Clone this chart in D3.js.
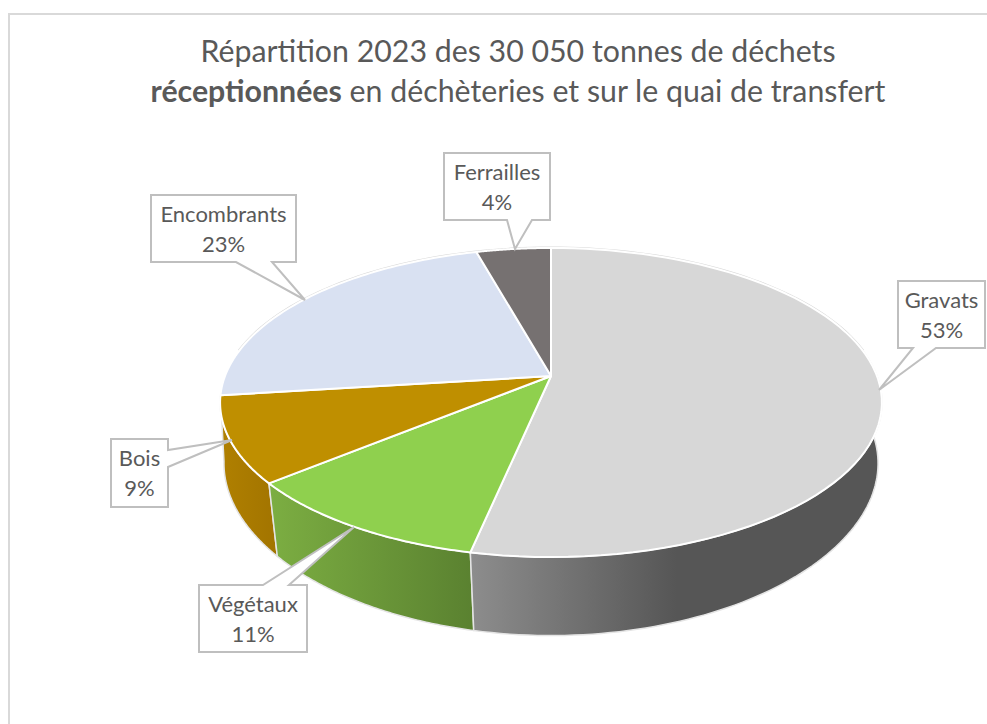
<!DOCTYPE html>
<html lang="fr">
<head>
<meta charset="utf-8">
<script src="https://cdn.jsdelivr.net/npm/d3@7/dist/d3.min.js"></script>
<style>
html,body{margin:0;padding:0;background:#fff;}
svg{display:block;}
text{font-family:Lato,"Open Sans",sans-serif;fill:#595959;}
</style>
</head>
<body>
<svg id="chart" width="987" height="724"></svg>
<script>
// --- data ---
const categories = ["Gravats", "Végétaux", "Bois", "Encombrants", "Ferrailles"];
const shares = [53.3, 10.7, 9, 22.7, 4.3];
const labels = ["53%", "11%", "9%", "23%", "4%"];
const topColors = ["#d7d7d7", "#8fd04e", "#bf8f00", "#d9e1f2", "#767171"];
const sideStops = [
  [[0, "#8d8d8d"], [0.5, "#565656"], [1, "#565656"]],
  [[0, "#7cae42"], [1, "#5a8130"]],
  [[0, "#b08000"], [1, "#a27400"]],
  null,
  null
];
const titleLines = [
  [{t: "Répartition 2023 des 30 050 tonnes de déchets", b: false}],
  [{t: "réceptionnées", b: true}, {t: " en déchèteries et sur le quai de transfert", b: false}]
];

// --- layout of the callouts: box [left, top, right, bottom], tail base and tip ---
const callouts = [
  {box: [898, 281, 985, 348], base: [[913, 348], [936, 348]], tip: [879, 390]},
  {box: [199, 585, 307, 652], base: [[263, 585], [289, 585]], tip: [354, 527]},
  {box: [111, 439, 168, 507], base: [[168, 450], [168, 467]], tip: [232, 440]},
  {box: [151, 195, 296, 262], base: [[236, 262], [272, 262]], tip: [305, 300]},
  {box: [444, 153, 550, 220], base: [[507, 220], [532, 220]], tip: [515, 249]}
];

const svg = d3.select("#chart");

// chart frame
svg.append("path")
  .attr("d", "M9,724V14H987")
  .attr("fill", "none").attr("stroke", "#d9d9d9").attr("stroke-width", 2);

// title
const title = svg.append("text").attr("text-anchor", "middle").attr("font-size", 30.3);
titleLines.forEach((line, i) => {
  const row = title.append("tspan").attr("x", 518).attr("y", 62 + i * 40);
  line.forEach(p => row.append("tspan").attr("font-weight", p.b ? 700 : 400).text(p.t));
});

// --- pie in perspective ---
const k = 0.1716;
const sx = d3.scaleLinear().domain([-1, 1]).range([551 - 326, 551 + 326]);
const sy = d3.scaleLinear().domain([-1, 1]).range([376 - 150, 376 + 150]);
const depth = d3.scaleLinear().domain([0, 1]).range([0, 65]);
// the lower plane narrows toward the viewer
const narrowing = d3.scaleLinear().domain([0, 1]).range([0.006, 0.043]);

function rim(theta) {
  const u = Math.sin(theta), v = -Math.cos(theta);
  const s = 1 / (1 - k * v);
  return {x: sx(u * s), y: sy(v * s), s, v};
}
const lower = theta => {
  const p = rim(theta);
  return [sx(0) + (p.x - sx(0)) * (1 - narrowing(p.v)), p.y + depth(p.s)];
};
const upper = theta => { const p = rim(theta); return [p.x, p.y]; };
const angles = (a, b) => d3.range(0, 81).map(i => a + (b - a) * i / 80);
const line = d3.line();

const arcs = d3.pie().value(d => d).sort(null)(shares);
// the wall stops where the rim reaches its widest point on the right and left
const wallFrom = Math.acos(k), wallTo = 2 * Math.PI - Math.acos(k);

const defs = svg.append("defs");
sideStops.forEach((stops, i) => {
  if (!stops) return;
  const g = defs.append("linearGradient").attr("id", "side" + i);
  stops.forEach(s => g.append("stop").attr("offset", s[0]).attr("stop-color", s[1]));
});

// walls, back to front
const walls = svg.append("g");
[2, 1, 0].forEach(i => {
  const a = Math.max(arcs[i].startAngle, wallFrom), b = Math.min(arcs[i].endAngle, wallTo);
  const pts = angles(a, b);
  walls.append("path")
    .attr("d", line(pts.map(upper).concat(pts.slice().reverse().map(lower))) + "Z")
    .attr("fill", `url(#side${i})`)
    .attr("stroke", "#e4e4e4").attr("stroke-width", 1.5).attr("stroke-linejoin", "round");
});

// faint outline along the back of the rim
svg.append("path")
  .attr("d", line(angles(wallTo - 2 * Math.PI, wallFrom).map(upper)))
  .attr("fill", "none").attr("stroke", "#d9d9d9").attr("stroke-width", 3);

// top faces
const faces = svg.append("g");
arcs.forEach((d, i) => {
  const pts = angles(d.startAngle, d.endAngle).map(upper);
  faces.append("path")
    .attr("d", line([[sx(0), sy(0)]].concat(pts)) + "Z")
    .attr("fill", topColors[i])
    .attr("stroke", "#ffffff").attr("stroke-width", 2).attr("stroke-linejoin", "round");
});

// callouts
const notes = svg.append("g");
callouts.forEach((c, i) => {
  const [l, t, r, b] = c.box;
  let order;
  if (c.base[0][1] === b) order = [[l, t], [r, t], [r, b], c.base[1], c.tip, c.base[0], [l, b]];
  else if (c.base[0][1] === t) order = [[l, t], c.base[0], c.tip, c.base[1], [r, t], [r, b], [l, b]];
  else order = [[l, t], [r, t], c.base[0], c.tip, c.base[1], [r, b], [l, b]];
  notes.append("path")
    .attr("d", line(order) + "Z")
    .attr("fill", "#ffffff").attr("stroke", "#bfbfbf").attr("stroke-width", 2)
    .attr("stroke-linejoin", "miter");
  const cx = (l + r) / 2;
  const text = notes.append("text").attr("text-anchor", "middle").attr("font-size", 22);
  text.append("tspan").attr("x", cx).attr("y", t + 27).text(categories[i]);
  text.append("tspan").attr("x", cx).attr("y", t + 57).text(labels[i]);
});
</script>
</body>
</html>
